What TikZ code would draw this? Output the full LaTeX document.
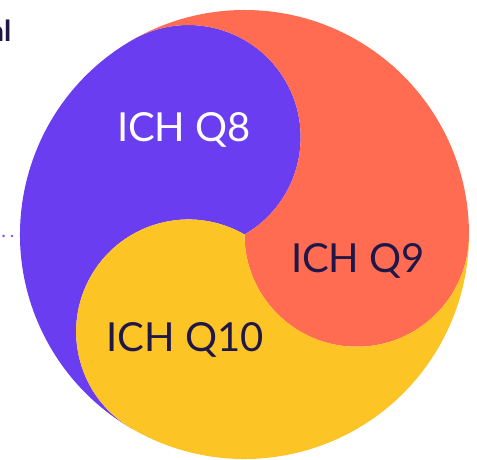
\documentclass[tikz,border=0pt]{standalone}
\usepackage{fontspec}
\usetikzlibrary{calc}
\setmainfont{Lato}
\definecolor{tomoePurple}{HTML}{6B3DF0}
\definecolor{tomoeOrange}{HTML}{FF6C52}
\definecolor{tomoeYellow}{HTML}{FDC426}
\definecolor{inkNavy}{HTML}{1E1748}
\definecolor{leaderPurple}{HTML}{7A52F4}
\begin{document}
\begin{tikzpicture}[x=1pt,y=1pt,
  lobe/.style={draw=none},
  lobelabel/.style={anchor=base,inner sep=0pt,font=\fontsize{40}{40}\selectfont},
  leader/.style={leaderPurple,line width=2.8pt,dash pattern=on 0pt off 8.4pt,line cap=round}]
\useasboundingbox (0,0) rectangle (477,460);
% centre of the disc, outer radius and half radius
\def\cx{244.5}\def\cy{225.5}\def\R{224.5}\def\r{112.25}
\coordinate (O) at (\cx,\cy);
\coordinate (P1) at ($(O)+(120:\R)$);
\coordinate (P2) at ($(O)+(0:\R)$);
\coordinate (P3) at ($(O)+(240:\R)$);
% three interlocking lobes
\fill[tomoePurple,lobe] (P1) arc[start angle=120,end angle=240,radius=\R]
  arc[start angle=240,end angle=60,radius=\r]
  arc[start angle=-60,end angle=120,radius=\r] -- cycle;
\fill[tomoeOrange,lobe] (P2) arc[start angle=0,end angle=120,radius=\R]
  arc[start angle=120,end angle=-60,radius=\r]
  arc[start angle=180,end angle=360,radius=\r] -- cycle;
\fill[tomoeYellow,lobe] (P3) arc[start angle=240,end angle=360,radius=\R]
  arc[start angle=0,end angle=-180,radius=\r]
  arc[start angle=60,end angle=240,radius=\r] -- cycle;
% labels
\node[lobelabel,text=white] (q8) at (184,318) {ICH Q8};
\node[lobelabel,text=inkNavy] (q9) at (358,187) {ICH Q9};
\node[lobelabel,text=inkNavy] (q10) at (185,108) {ICH Q10};
% caption word running in from the left edge, and its leader dots
\node[anchor=base east,inner sep=0pt,text=inkNavy,font=\bfseries\fontsize{29}{29}\selectfont] (cap) at (11.5,418) {al};
\coordinate (leadA) at (-21.6,224);
\coordinate (leadB) at (12,224);
\draw[leader] (leadA) -- (leadB);
\end{tikzpicture}
\end{document}
